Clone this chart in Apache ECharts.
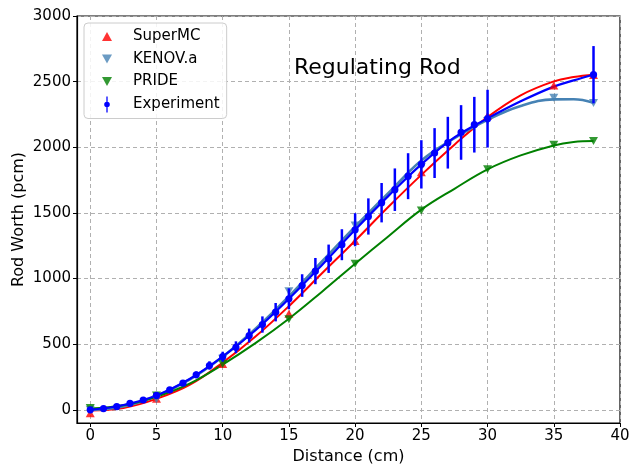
<!DOCTYPE html>
<html>
<head>
<meta charset="utf-8">
<script src="https://cdn.jsdelivr.net/npm/echarts@6/dist/echarts.min.js"></script>
<style>html,body{margin:0;padding:0;background:#fff}#c{width:630px;height:468px}</style>
</head>
<body>
<div id="c"></div>
<script>
// ---- data ----
const xTicks = [0, 5, 10, 15, 20, 25, 30, 35, 40];
const yTicks = [0, 500, 1000, 1500, 2000, 2500, 3000];

// calculated points (markers)
const calcX = [0, 5, 10, 15, 20, 25, 30, 35, 38];
const superMC = [-26, 85, 350, 732, 1286, 1810, 2240, 2470, 2550];
const kenov = [0, 80, 390, 904, 1405, 1850, 2200, 2378, 2337];
const pride = [15, 110, 350, 690, 1113, 1519, 1832, 2020, 2047];

// fitted curves
const fitX = [0, 2.5, 5, 7.5, 10, 12.5, 15, 17.5, 20, 22.5, 25, 27.5, 30, 32.5, 35, 36.5, 38];
const superMCFit = [-5, 15, 84, 190, 360, 560, 790, 1040, 1288, 1545, 1790, 2020, 2230, 2396, 2502, 2535, 2553];
const kenovFit = [0, 25, 105, 230, 405, 620, 865, 1130, 1395, 1650, 1900, 2070, 2210, 2315, 2365, 2366, 2340];
const prideFit = [10, 35, 100, 200, 345, 510, 694, 900, 1113, 1321, 1525, 1684, 1832, 1938, 2014, 2040, 2047];
const expFit = [0, 37, 110, 235, 405, 608, 846, 1104, 1372, 1628, 1870, 2075, 2220, 2350, 2462, 2510, 2553];

// experiment
const expX = [0,1,2,3,4,5,6,7,8,9,10,11,12,13,14,15,16,17,18,19,20,21,22,23,24,25,26,27,28,29,30,38];
const expY = [0,10,25,50,75,110,152,203,267,338,405,477,566,650,744,846,947,1057,1151,1258,1372,1473,1578,1677,1780,1870,1956,2035,2113,2172,2218,2553];
const expErr = [0,1,2,5,7,10,14,19,25,32,38,45,53,62,70,80,86,100,108,118,126,138,150,162,175,184,190,197,208,212,220,218];

const zip2 = (a, b) => a.map((v, i) => [v, b[i]]);
const FONT = 'DejaVu Sans';
const upTri = 'path://M5,0L10,9L0,9Z';
const downTri = 'path://M0,0L10,0L5,9Z';
const expIcon = 'path://M4.2,0H5.8V20H4.2Z M1.5,10A3.5,3.5 0 1 1 8.5,10A3.5,3.5 0 1 1 1.5,10Z';

const chart = echarts.init(document.getElementById('c'), null, {renderer: 'canvas'});
chart.setOption({
  animation: false,
  backgroundColor: '#fff',
  title: {
    text: 'Regulating Rod', left: 289, top: 52,
    textStyle: {fontFamily: FONT, fontSize: 22, fontWeight: 'normal', color: '#000'}
  },
  legend: {
    orient: 'vertical', left: 84, top: 23,
    padding: [6, 7, 6, 18], itemGap: 7.5,
    itemWidth: 10, itemHeight: 16,
    backgroundColor: 'rgba(255,255,255,0.85)', borderColor: '#cccccc', borderWidth: 1, borderRadius: 4,
    textStyle: {fontFamily: FONT, fontSize: 15, color: '#000', padding: [0, 0, 0, 16]},
    data: [
      {name: 'SuperMC', icon: upTri},
      {name: 'KENOV.a', icon: downTri},
      {name: 'PRIDE', icon: downTri},
      {name: 'Experiment', icon: expIcon}
    ]
  },
  grid: {left: 77, right: 10, top: 16, bottom: 45, outerBoundsMode: 'none', containLabel: false,
         show: true, borderColor: '#000', borderWidth: 1.2, backgroundColor: 'transparent'},
  xAxis: {
    type: 'value', min: -1, max: 40,
    name: 'Distance (cm)', nameLocation: 'middle', nameGap: 26, nameMoveOverlap: false,
    nameTextStyle: {fontFamily: FONT, fontSize: 16, color: '#000'},
    axisLine: {show: true, onZero: false, lineStyle: {color: '#000', width: 1.2}},
    axisTick: {show: true, length: 4, lineStyle: {color: '#000'}, customValues: xTicks},
    axisLabel: {fontFamily: FONT, fontSize: 15, color: '#000', margin: 6, customValues: xTicks,
                formatter: v => String(v)},
    splitLine: {show: true, lineStyle: {color: '#b0b0b0', type: [4, 3], width: 1}}
  },
  yAxis: {
    type: 'value', min: -100, max: 3000,
    name: 'Rod Worth (pcm)', nameLocation: 'middle', nameGap: 50, nameRotate: 90, nameMoveOverlap: false,
    nameTextStyle: {fontFamily: FONT, fontSize: 16, color: '#000'},
    axisLine: {show: true, onZero: false, lineStyle: {color: '#000', width: 1.2}},
    axisTick: {show: true, length: 4, lineStyle: {color: '#000'}, customValues: yTicks},
    axisLabel: {fontFamily: FONT, fontSize: 15, color: '#000', margin: 6, customValues: yTicks,
                formatter: v => String(v)},
    splitLine: {show: true, lineStyle: {color: '#b0b0b0', type: [4, 3], width: 1}}
  },
  series: [
    {name: 'SuperMC fit', type: 'line', data: zip2(fitX, superMCFit), smooth: 0.4, showSymbol: false,
     lineStyle: {color: '#ff0000', width: 2}, z: 2, silent: true},
    {name: 'KENOV.a fit', type: 'line', data: zip2(fitX, kenovFit), smooth: 0.4, showSymbol: false,
     lineStyle: {color: '#4682b4', width: 2.6}, z: 2, silent: true},
    {name: 'PRIDE fit', type: 'line', data: zip2(fitX, prideFit), smooth: 0.4, showSymbol: false,
     lineStyle: {color: '#008000', width: 2}, z: 2, silent: true},
    {name: 'Experiment fit', type: 'line', data: zip2(fitX, expFit), smooth: 0.4, showSymbol: false,
     lineStyle: {color: '#0000ff', width: 2.2}, z: 3, silent: true},
    {name: 'SuperMC', type: 'scatter', data: zip2(calcX, superMC), symbol: upTri, symbolSize: [9, 8],
     itemStyle: {color: '#ff0000'}, z: 4},
    {name: 'KENOV.a', type: 'scatter', data: zip2(calcX, kenov), symbol: downTri, symbolSize: [9, 8],
     itemStyle: {color: '#4682b4'}, z: 4},
    {name: 'PRIDE', type: 'scatter', data: zip2(calcX, pride), symbol: downTri, symbolSize: [9, 8],
     itemStyle: {color: '#008000'}, z: 4},
    {name: 'Experiment', type: 'custom', z: 5,
     data: expX.map((x, i) => [x, expY[i], expErr[i]]),
     renderItem: function (params, api) {
       const x = api.value(0), y = api.value(1), e = api.value(2);
       const top = api.coord([x, y + e]);
       const bot = api.coord([x, y - e]);
       const c = api.coord([x, y]);
       return {type: 'group', children: [
         {type: 'line', shape: {x1: top[0], y1: top[1], x2: bot[0], y2: bot[1]},
          style: {stroke: '#0000ff', lineWidth: 2.5}},
         {type: 'circle', shape: {cx: c[0], cy: c[1], r: 3.6}, style: {fill: '#0000ff'}}
       ]};
     },
     itemStyle: {color: '#0000ff'}
    }
  ]
});
</script>
</body>
</html>
